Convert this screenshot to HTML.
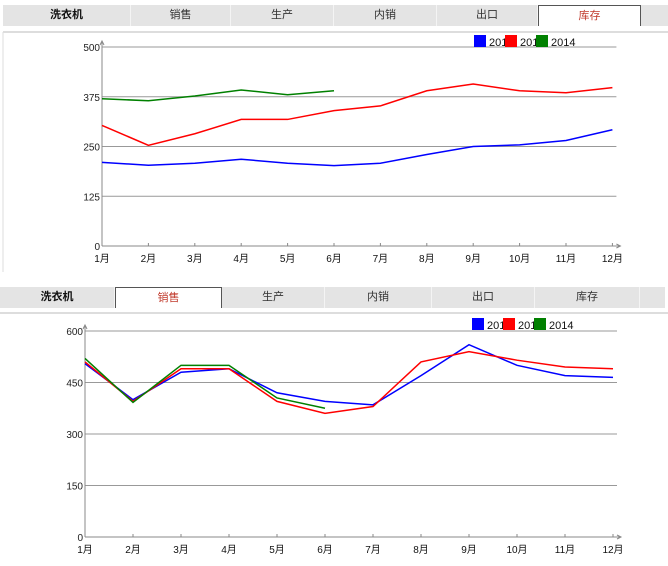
<!DOCTYPE html>
<html><head><meta charset="utf-8"><style>
body{margin:0;width:668px;height:566px;background:#fff;overflow:hidden;font-family:"Liberation Sans","Noto Sans CJK SC",sans-serif;position:relative}
.tabs{position:absolute;left:3px;height:21px;width:665px;background:#e4e4e4}
.tab{position:absolute;top:0;height:21px;line-height:21px;text-align:center;font-size:11px;color:#333;border-right:1px solid #f4f4f4;box-sizing:border-box}
.tab.first{font-weight:bold;color:#111}
.tab.act{background:#fff;color:#c0392b;border:1px solid #555;border-bottom:none}
svg{position:absolute;left:0}
</style></head><body>
<div class="tabs" style="top:5px">
<div class="tab first" style="left:0;width:128px">洗衣机</div>
<div class="tab" style="left:128px;width:100px">销售</div>
<div class="tab" style="left:228px;width:103px">生产</div>
<div class="tab" style="left:331px;width:103px">内销</div>
<div class="tab" style="left:434px;width:101px">出口</div>
<div class="tab act" style="left:535px;width:103px">库存</div>
</div>
<div class="tabs" style="top:287px;left:0">
<div class="tab first" style="left:0;width:115px">洗衣机</div>
<div class="tab act" style="left:115px;width:107px">销售</div>
<div class="tab" style="left:222px;width:103px">生产</div>
<div class="tab" style="left:325px;width:107px">内销</div>
<div class="tab" style="left:432px;width:103px">出口</div>
<div class="tab" style="left:535px;width:105px">库存</div>
</div>
<svg id="c" width="668" height="566" style="top:0"></svg>
<script>
const months=["1月","2月","3月","4月","5月","6月","7月","8月","9月","10月","11月","12月"];
const years=["2012","2013","2014"];
const colors=["#0000ff","#ff0000","#008000"];
const inv2012=[210,203,208,218,208,202,208,230,250,254,265,292];
const inv2013=[303,253,282,318,318,340,352,390,407,390,385,398];
const inv2014=[370,365,377,392,380,390];
const invTicks=[0,125,250,375,500];
const sal2012=[505,400,480,490,420,395,385,470,560,500,470,465];
const sal2013=[510,395,490,490,395,360,380,510,540,515,495,490];
const sal2014=[520,392,500,500,405,375];
const salTicks=[0,150,300,450,600];
const svg=document.getElementById('c');const NS="http://www.w3.org/2000/svg";
function mk(t,a,p){const e=document.createElementNS(NS,t);for(const k in a)e.setAttribute(k,a[k]);(p||svg).appendChild(e);return e;}
function chart(name,cfg,series,ticks){
 const g=mk('g',{});
 
 
 const max=ticks[ticks.length-1];
 const X=i=>cfg.x0+i*cfg.step, Y=v=>cfg.y0-(v/max)*(cfg.y0-cfg.y1);
 mk('line',{x1:cfg.top[0],y1:cfg.top[1],x2:668,y2:cfg.top[1],stroke:'#ddd','stroke-width':2},g);
 ticks.forEach(t=>{
  if(t>0){const l=mk('line',{x1:cfg.x0,y1:Y(t),x2:cfg.x0+11*cfg.step+4,y2:Y(t),stroke:'#999','stroke-width':1},g);
  }
  const tx=mk('text',{x:cfg.x0-2,y:Y(t)+4,'text-anchor':'end','font-size':10,fill:'#222'},g);tx.textContent=t;
  
 });
 mk('line',{x1:cfg.x0,y1:cfg.y0,x2:cfg.x0,y2:cfg.y1-5,stroke:'#888'},g);
 mk('path',{d:`M${cfg.x0-2} ${cfg.y1-2}L${cfg.x0} ${cfg.y1-6}L${cfg.x0+2} ${cfg.y1-2}`,stroke:'#888',fill:'none'},g);
 const xe=cfg.x0+11*cfg.step+8;
 mk('line',{x1:cfg.x0,y1:cfg.y0,x2:xe,y2:cfg.y0,stroke:'#888'},g);
 mk('path',{d:`M${xe-4} ${cfg.y0-2}L${xe} ${cfg.y0}L${xe-4} ${cfg.y0+2}`,stroke:'#888',fill:'none'},g);
 months.forEach((m,i)=>{
  mk('line',{x1:X(i),y1:cfg.y0,x2:X(i),y2:cfg.y0-3,stroke:'#888'},g);
  const t=mk('text',{x:X(i),y:cfg.y0+16,'text-anchor':'middle','font-size':10,fill:'#111'},g);t.textContent=m;
  
 });
 series.forEach((s,k)=>{
  const p=mk('polyline',{points:s.map((v,i)=>X(i)+','+Y(v)).join(' '),fill:'none',stroke:colors[k],'stroke-width':1.5},g);
  
 });
 years.forEach((y,k)=>{
  const lx=cfg.lx+k*31;
  const r=mk('rect',{x:lx,y:cfg.ly,width:12,height:12,fill:colors[k]},g);
  
  const t=mk('text',{x:lx+15,y:cfg.ly+11,'font-size':11,fill:'#111'},g);t.textContent=y;
  
 });
}
chart('inventory-chart',{x0:102,step:46.4,y0:246,y1:47,top:[3,32],lx:474,ly:35},[inv2012,inv2013,inv2014],invTicks);
chart('sales-chart',{x0:85,step:48,y0:537,y1:331,top:[0,313],lx:472,ly:318},[sal2012,sal2013,sal2014],salTicks);
mk('line',{x1:3,y1:32,x2:3,y2:272,stroke:'#ddd'});
</script>
</body></html>
